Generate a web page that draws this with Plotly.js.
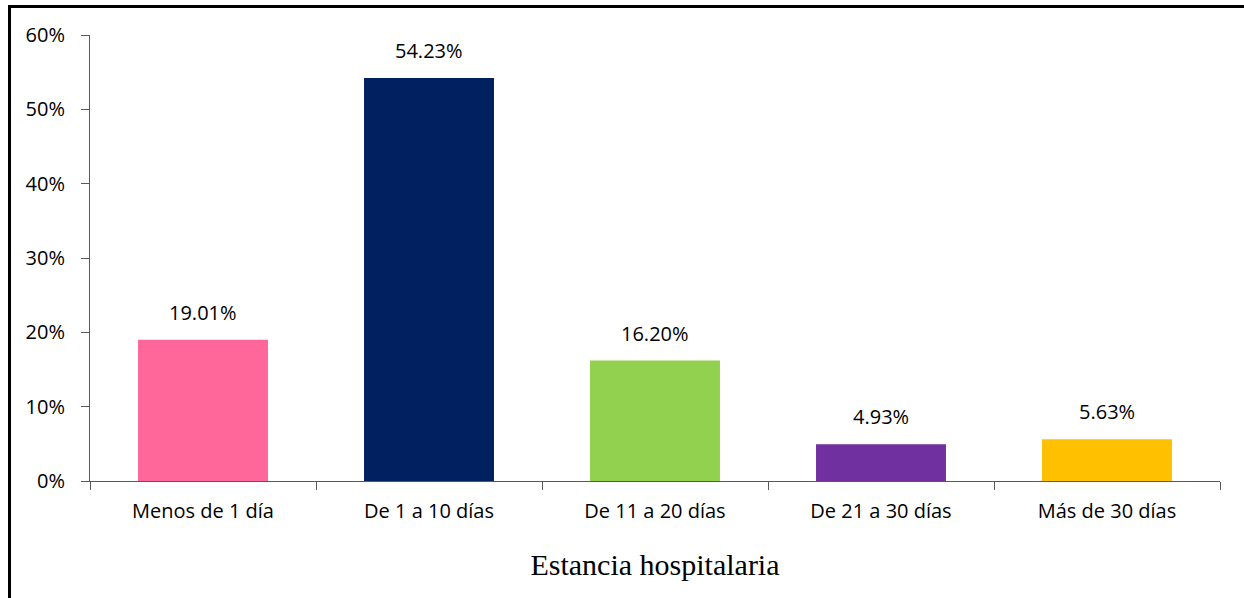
<!DOCTYPE html>
<html>
<head>
<meta charset="utf-8">
<script src="https://cdn.plot.ly/plotly-3.0.1.min.js"></script>
<style>
  html, body { margin: 0; padding: 0; background: #fff; }
  #wrap { position: relative; width: 1244px; height: 598px; overflow: hidden; }
  #chart { width: 1244px; height: 598px; }
  #frame { position: absolute; left: 8px; top: 5px; width: 1300px; height: 700px;
           border-left: 3px solid #000; border-top: 3px solid #000; pointer-events: none; }
</style>
</head>
<body>
<div id="wrap">
  <div id="chart"></div>
  <div id="frame"></div>
</div>
<script>
const categories = ["Menos de 1 día", "De 1 a 10 días", "De 11 a 20 días", "De 21 a 30 días", "Más de 30 días"];
const values = [19.01, 54.23, 16.20, 4.93, 5.63];
const colors = ["#FF6699", "#002060", "#92D050", "#7030A0", "#FFC000"];
const yTickVals = [0, 10, 20, 30, 40, 50, 60];
const yTickText = ["0%", "10%", "20%", "30%", "40%", "50%", "60%"];
const xTitle = "Estancia hospitalaria";

const font = "'Open Sans', Lato, sans-serif";

const trace = {
  type: "bar",
  x: categories,
  y: values,
  marker: { color: colors },
  hoverinfo: "none"
};

const annotations = categories.map((c, i) => ({
  x: c, y: values[i], xref: "x", yref: "y",
  text: values[i].toFixed(2) + "%",
  showarrow: false, yanchor: "bottom", yshift: 12,
  font: { family: font, size: 20, color: "#000" }
}));

const layout = {
  width: 1244, height: 598,
  margin: { l: 90, r: 24, t: 35, b: 117 },
  paper_bgcolor: "rgba(0,0,0,0)",
  plot_bgcolor: "rgba(0,0,0,0)",
  showlegend: false,
  bargap: 0.425,
  xaxis: {
    type: "category",
    showline: true, linecolor: "#595959", linewidth: 1,
    ticks: "outside", tickson: "boundaries", ticklen: 8, tickcolor: "#595959",
    tickfont: { family: font, size: 20, color: "#000" },
    ticklabelstandoff: 12,
    showgrid: false, zeroline: false,
    title: { text: xTitle, font: { family: "'Liberation Serif', 'Times New Roman', serif", size: 30, color: "#000" }, standoff: 30 },
    automargin: false
  },
  yaxis: {
    range: [0, 60],
    tickvals: yTickVals, ticktext: yTickText,
    showline: true, linecolor: "#595959", linewidth: 1,
    ticks: "outside", ticklen: 8, tickcolor: "#595959",
    tickfont: { family: font, size: 20, color: "#000" },
    ticklabelstandoff: 12,
    showgrid: false, zeroline: false,
    automargin: false
  },
  annotations: annotations
};

Plotly.newPlot("chart", [trace], layout, { displayModeBar: false, staticPlot: true });
</script>
</body>
</html>
